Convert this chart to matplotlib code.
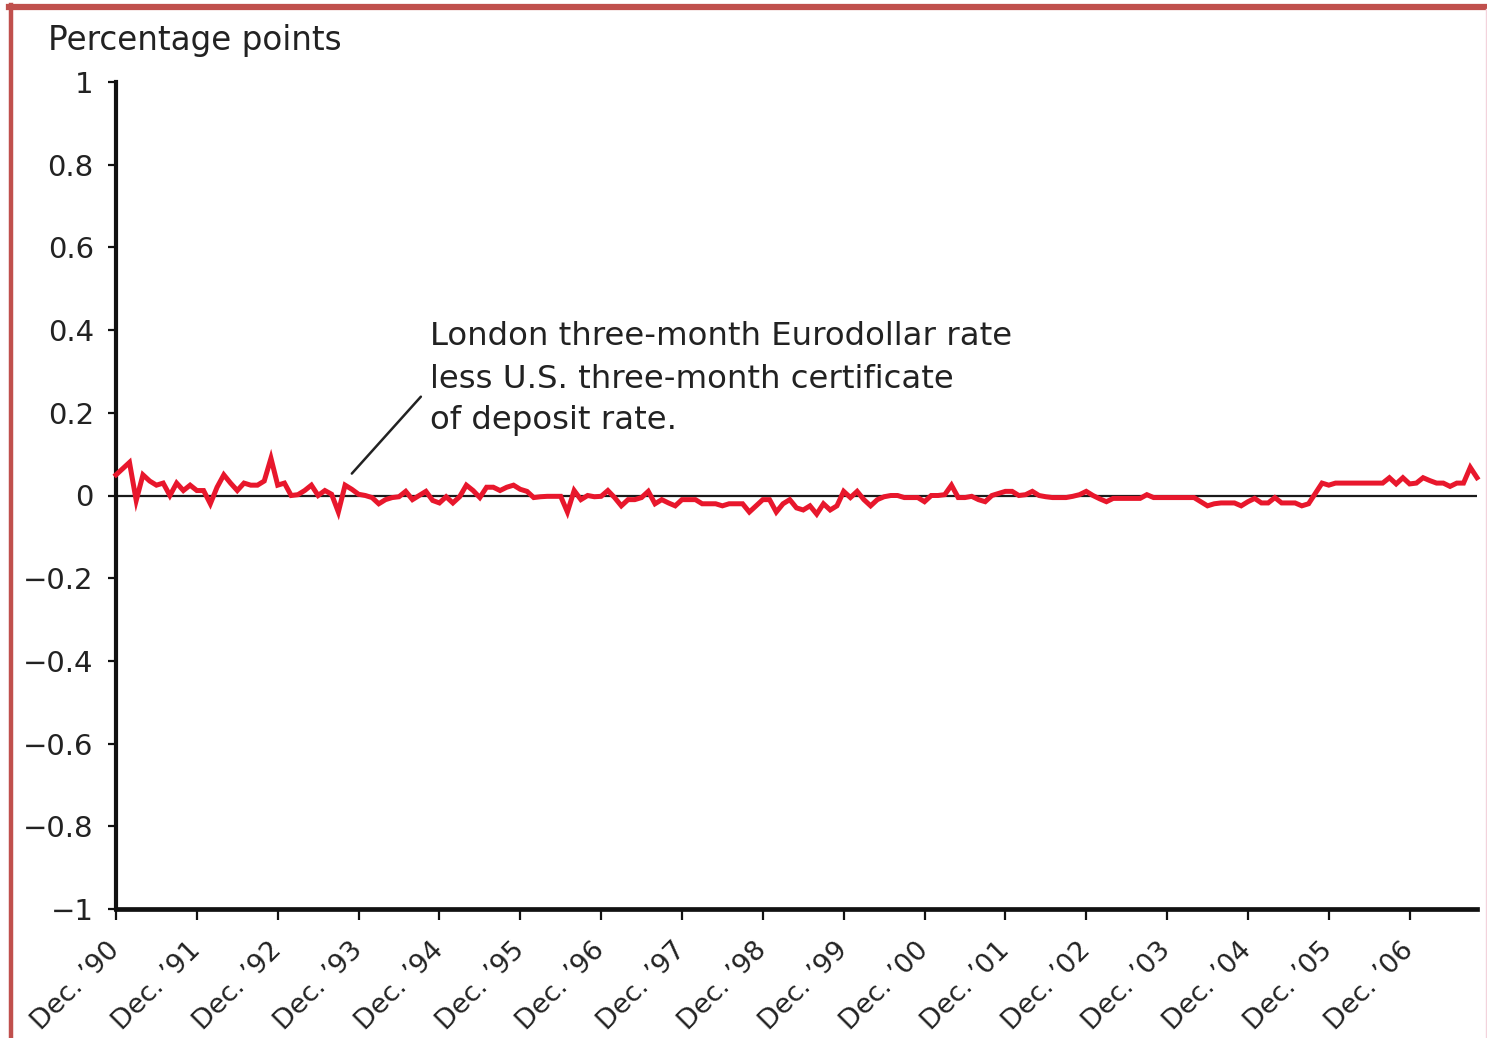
import matplotlib
matplotlib.use("Agg")
import matplotlib.pyplot as plt
from matplotlib.lines import Line2D
import numpy as np

# ---- data: monthly spread, Dec 1990 .. Oct 2007 (percentage points) ----
spread = [
    0.05, 0.065, 0.08, -0.012, 0.05, 0.035, 0.025, 0.03, 0.0, 0.03, 0.012, 0.025,
    0.012, 0.012, -0.02, 0.02, 0.05, 0.03, 0.012, 0.03, 0.025, 0.025, 0.035, 0.09,
    0.025, 0.03, 0.0, 0.002, 0.012, 0.025, 0.0, 0.012, 0.003, -0.04, 0.025, 0.015,
    0.003, 0.0, -0.005, -0.02, -0.01, -0.005, -0.003, 0.01, -0.01, 0.0, 0.01, -0.012,
    -0.018, -0.003, -0.018, -0.003, 0.025, 0.012, -0.005, 0.02, 0.02, 0.012, 0.02, 0.025,
    0.015, 0.01, -0.005, -0.003, -0.002, -0.002, -0.002, -0.04, 0.012, -0.01, 0.0, -0.003,
    -0.002, 0.012, -0.005, -0.025, -0.01, -0.01, -0.005, 0.01, -0.02, -0.01, -0.018, -0.025,
    -0.01, -0.01, -0.01, -0.02, -0.02, -0.02, -0.025, -0.02, -0.02, -0.02, -0.04, -0.025,
    -0.01, -0.01, -0.04, -0.02, -0.01, -0.03, -0.035, -0.025, -0.045, -0.02, -0.035, -0.025,
    0.01, -0.005, 0.01, -0.01, -0.025, -0.01, -0.003, 0.0, 0.0, -0.005, -0.005, -0.005,
    -0.015, 0.0, 0.0, 0.002, 0.025, -0.005, -0.005, -0.002, -0.01, -0.015, 0.0, 0.005,
    0.01, 0.01, 0.0, 0.002, 0.01, 0.0, -0.003, -0.005, -0.005, -0.005, -0.002, 0.002,
    0.01, 0.0, -0.008, -0.015, -0.007, -0.007, -0.007, -0.007, -0.007, 0.002, -0.005, -0.005,
    -0.005, -0.005, -0.005, -0.005, -0.005, -0.015, -0.025, -0.02, -0.018, -0.018, -0.018, -0.025,
    -0.015, -0.007, -0.018, -0.018, -0.005, -0.018, -0.018, -0.018, -0.025, -0.02, 0.005, 0.03,
    0.025, 0.03, 0.03, 0.03, 0.03, 0.03, 0.03, 0.03, 0.03, 0.043, 0.028, 0.043,
    0.028, 0.03, 0.043, 0.036, 0.03, 0.03, 0.022, 0.03, 0.03, 0.068, 0.043,
]
months = np.arange(len(spread))  # month index from Dec 1990

x_tick_labels = ["Dec. \u2019%02d" % (y % 100) for y in range(1990, 2007)]
x_tick_pos = [12 * i for i in range(len(x_tick_labels))]

y_ticks = [1, 0.8, 0.6, 0.4, 0.2, 0, -0.2, -0.4, -0.6, -0.8, -1]
y_tick_labels = ["1", "0.8", "0.6", "0.4", "0.2", "0",
                 "\u22120.2", "\u22120.4", "\u22120.6", "\u22120.8", "\u22121"]

annotation_lines = ["London three-month Eurodollar rate",
                    "less U.S. three-month certificate",
                    "of deposit rate."]

plt.rcParams['font.family'] = ['DejaVu Sans']

W, H = 1487, 1038
fig = plt.figure(figsize=(W / 100, H / 100), dpi=100)
fig.patch.set_facecolor('white')

ax = fig.add_axes([116 / W, (H - 909) / H, (1477 - 116) / W, (909 - 82) / H])
ax.set_xlim(0, len(spread) - 1)
ax.set_ylim(-1, 1)

ax.axhline(0, color='#1a1a1a', lw=1.6, zorder=2)
ax.plot(months, spread, color='#E8172C', lw=3.6, zorder=3, clip_on=False,
        solid_joinstyle='miter')

for s in ['top', 'right']:
    ax.spines[s].set_visible(False)
ax.spines['left'].set_linewidth(3.0)
ax.spines['bottom'].set_linewidth(3.4)
ax.spines['left'].set_color('#111111')
ax.spines['bottom'].set_color('#111111')

ax.set_yticks(y_ticks)
ax.set_yticklabels(y_tick_labels)
ax.tick_params(axis='y', direction='out', length=6, width=1.6, pad=10,
               labelsize=21, colors='#111111', labelcolor='#222222')

ax.set_xticks(x_tick_pos)
ax.set_xticklabels(x_tick_labels, rotation=45, ha='right', va='center',
                   rotation_mode='anchor')
ax.tick_params(axis='x', direction='out', length=8, width=1.6, pad=19,
               labelsize=19.5, colors='#111111', labelcolor='#222222')

# annotation
ax.annotate('', xy=(35.0, 0.053), xytext=(45.25, 0.239),
            arrowprops=dict(arrowstyle='-', color='#222222', lw=1.8,
                            shrinkA=0, shrinkB=0))
for txt, yb in zip(annotation_lines, [0.363, 0.261, 0.162]):
    ax.text(46.6, yb, txt, fontsize=23.3, color='#222222', va='baseline',
            ha='left')

fig.text(48 / W, 1 - 50 / H, "Percentage points", fontsize=23.5,
         color='#222222', va='baseline', ha='left')

# figure border
border = '#C0504D'
fig.add_artist(Line2D([9 / W, 1 - 1 / W], [1 - 7 / H, 1 - 7 / H],
                      transform=fig.transFigure, color=border, lw=4.5))
fig.add_artist(Line2D([11 / W, 11 / W], [0, 1 - 5 / H],
                      transform=fig.transFigure, color=border, lw=3.2))
fig.add_artist(Line2D([1485.5 / W, 1485.5 / W], [0, 1 - 9 / H],
                      transform=fig.transFigure, color='#F3D3DC', lw=1.0))

fig.savefig('out.png', dpi=100, facecolor='white')
